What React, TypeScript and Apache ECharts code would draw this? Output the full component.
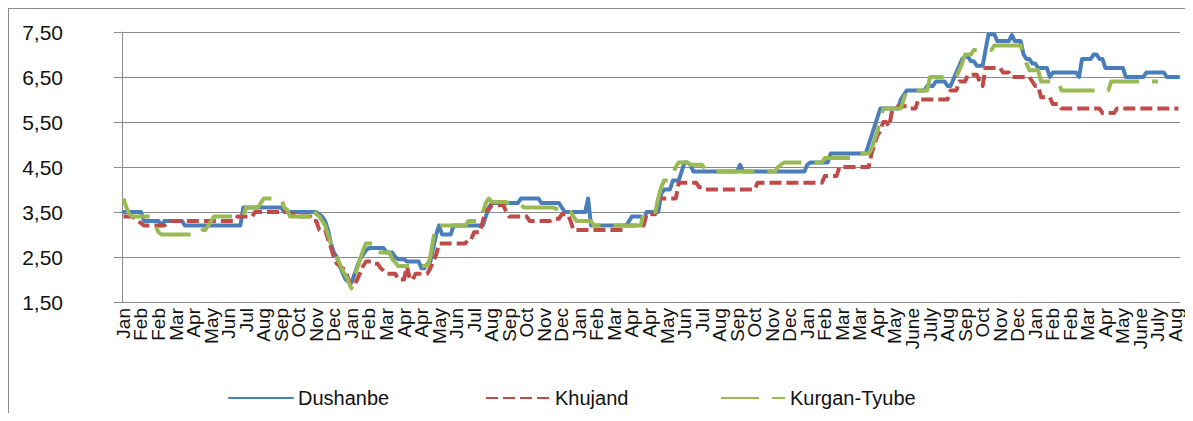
import { useEffect, useRef } from "react";
import * as echarts from "echarts";

// Visible month labels (one every 6th category)
const monthLabels: string[] = [
  "Jan", "Feb", "Feb", "Mar", "Apr", "May", "Jun", "Jul", "Aug", "Sep", "Oct", "Nov", "Dec",
  "Jan", "Feb", "Mar", "Apr", "Apr", "May", "Jun", "Jul", "Aug", "Sep", "Oct", "Nov", "Dec",
  "Jan", "Feb", "Mar", "Apr", "Apr", "May", "Jun", "Jul", "Aug", "Sep", "Oct", "Nov", "Dec",
  "Jan", "Feb", "Mar", "Mar", "Apr", "May", "June", "July", "Aug", "Sep", "Oct", "Nov", "Dec",
  "Jan", "Feb", "Feb", "Mar", "Apr", "May", "June", "July", "Aug",
];
const labelEvery = 6;

const yTickValues = [1.5, 2.5, 3.5, 4.5, 5.5, 6.5, 7.5];

// Series values as runs: [value, number of consecutive observations]
const dushanbeRuns: [number, number][] = [
  [3.5, 7], [3.3, 6], [3.2, 1], [3.3, 7], [3.2, 20], [3.6, 14], [3.5, 12],
  [3.45, 1], [3.4, 1], [3.3, 1], [3.1, 1], [2.8, 1], [2.6, 1], [2.5, 1], [2.3, 1], [2.15, 1],
  [2.0, 1], [1.95, 1], [1.93, 1], [2.1, 1], [2.3, 1], [2.45, 1], [2.55, 1], [2.65, 1],
  [2.7, 6], [2.6, 3], [2.5, 1], [2.45, 3], [2.4, 5], [2.25, 2], [2.35, 1],
  [2.4, 1], [2.7, 1], [3.0, 1], [3.2, 1], [3.0, 4], [3.2, 11], [3.4, 1], [3.6, 1],
  [3.7, 10], [3.8, 7], [3.7, 7], [3.6, 1], [3.5, 8], [3.8, 1], [3.2, 13], [3.3, 1],
  [3.4, 4], [3.3, 1], [3.5, 5], [3.9, 1], [4.0, 3], [4.2, 3], [4.4, 1], [4.6, 2],
  [4.55, 1], [4.4, 16], [4.55, 1], [4.4, 22], [4.55, 1], [4.6, 7], [4.8, 13],
  [5.0, 1], [5.2, 1], [5.4, 1], [5.6, 1], [5.8, 7], [6.0, 1], [6.1, 1], [6.2, 7],
  [6.3, 3], [6.4, 4], [6.3, 2], [6.45, 1], [6.6, 1], [6.75, 1], [6.9, 1], [6.95, 2],
  [6.85, 2], [6.75, 3], [7.1, 1], [7.45, 3], [7.3, 5], [7.43, 1], [7.3, 3], [7.0, 1],
  [6.9, 2], [6.8, 2], [6.7, 4], [6.5, 1], [6.6, 9], [6.5, 1], [6.9, 4], [7.0, 2],
  [6.9, 2], [6.7, 7], [6.5, 7], [6.6, 7], [6.5, 5],
];

const khujandRuns: [number, number][] = [
  [3.4, 4], [3.35, 1], [3.3, 1], [3.25, 1], [3.2, 8], [3.25, 1], [3.3, 23], [3.4, 6],
  [3.5, 12], [3.45, 3], [3.4, 5], [3.3, 2], [3.1, 3],
  [2.9, 1], [2.7, 1], [2.5, 1], [2.35, 1], [2.3, 1], [2.25, 1], [2.2, 1], [2.0, 1],
  [1.88, 2], [2.0, 1], [2.15, 1], [2.3, 1], [2.4, 3], [2.35, 2], [2.25, 1], [2.2, 1],
  [2.13, 4], [2.0, 3], [2.3, 1], [2.0, 2], [2.13, 5], [2.25, 1], [2.4, 1], [2.55, 1],
  [2.8, 10], [2.9, 2], [3.05, 3], [3.3, 1], [3.55, 2], [3.65, 5], [3.5, 1], [3.4, 7],
  [3.3, 8], [3.35, 3], [3.45, 3], [3.3, 1], [3.1, 18], [3.2, 7], [3.45, 4], [3.8, 7],
  [4.15, 7], [4.05, 2], [4.0, 18], [4.15, 23], [4.3, 5], [4.5, 11],
  [4.8, 1], [5.0, 1], [5.2, 1], [5.3, 1], [5.5, 2], [5.4, 1], [5.75, 2], [5.85, 4],
  [5.8, 3], [6.0, 11], [6.2, 3], [6.4, 3], [6.55, 4], [6.4, 1], [6.3, 1], [6.7, 6],
  [6.6, 3], [6.5, 7], [6.4, 1], [6.3, 2], [6.05, 4], [5.9, 3], [5.8, 14], [5.7, 5],
  [5.8, 22],
];

const kurganTyubeRuns: [number | null, number][] = [
  [3.8, 1], [3.6, 1], [3.45, 1], [3.4, 7], [3.3, 1], [3.2, 1], [3.05, 1], [3.0, 14],
  [3.1, 2], [3.2, 1], [3.3, 1], [3.4, 11], [3.6, 5], [3.7, 1], [3.8, 7], [3.6, 1],
  [3.55, 1], [3.4, 8], [3.6, 1], [3.45, 1],
  [3.4, 1], [3.3, 1], [3.2, 1], [3.0, 1], [2.8, 1], [2.65, 1], [2.5, 1], [2.35, 1],
  [2.2, 1], [2.1, 1], [1.95, 1], [1.8, 1], [2.05, 1], [2.25, 1], [2.45, 1], [2.65, 1],
  [2.8, 4], [2.6, 5], [2.45, 1], [2.38, 1], [2.3, 11], [2.5, 1], [2.9, 1], [3.2, 11],
  [3.3, 5], [3.5, 1], [3.7, 1], [3.8, 1], [3.72, 6], [3.67, 5], [3.6, 11], [3.57, 3],
  [3.5, 3], [3.4, 1], [3.3, 6], [3.2, 17], [3.5, 5], [3.8, 1], [4.05, 1], [4.2, 3],
  [4.35, 1], [4.5, 1], [4.6, 4], [4.55, 5], [4.45, 2], [4.4, 23], [4.5, 1], [4.55, 1],
  [4.6, 14], [4.7, 10], [4.8, 6], [4.9, 1], [5.1, 1], [5.3, 1], [5.55, 1], [5.8, 7],
  [6.0, 1], [6.2, 8], [6.5, 10], [6.65, 1], [6.8, 1], [7.0, 3], [7.1, 7], [7.2, 10],
  [7.0, 1], [6.8, 1], [6.65, 4], [6.4, 7], [6.2, 17], [6.4, 17], [null, 7],
];

function expandRuns(runs: [number | null, number][]): (number | null)[] {
  const out: (number | null)[] = [];
  for (const [v, n] of runs) for (let i = 0; i < n; i++) out.push(v);
  return out;
}

const FONT = "Liberation Sans";
const GRAY = "#898989";

export default function App() {
  const ref = useRef<HTMLDivElement>(null);

  useEffect(() => {
    if (!ref.current) return;
    const chart = echarts.init(ref.current, undefined, { renderer: "svg" });

    const dushanbe = expandRuns(dushanbeRuns);
    const khujand = expandRuns(khujandRuns);
    const kurgan = expandRuns(kurganTyubeRuns);
    const n = Math.max(dushanbe.length, khujand.length, kurgan.length);
    const categories = Array.from({ length: n }, (_, i) =>
      i % labelEvery === 0 && monthLabels[i / labelEvery] !== undefined ? monthLabels[i / labelEvery] : ""
    );

    const legendCommon = {
      top: 379,
      padding: 0,
      itemWidth: 64,
      itemHeight: 14,
      itemStyle: { opacity: 0 },
      textStyle: { fontFamily: FONT, fontSize: 20, color: "#111" },
      selectedMode: false as const,
    };

    chart.setOption({
      animation: false,
      textStyle: { fontFamily: FONT },
      grid: { left: 113, right: 0, top: 23, bottom: 111, containLabel: false },
      xAxis: {
        type: "category",
        data: categories,
        boundaryGap: true,
        axisLine: { lineStyle: { color: GRAY, width: 1 } },
        axisTick: { interval: 0, length: 7, lineStyle: { color: GRAY } },
        axisLabel: {
          interval: 0,
          rotate: 90,
          fontFamily: FONT,
          fontSize: 19,
          color: "#111",
          margin: 6,
        },
        splitLine: { show: false },
      },
      yAxis: {
        type: "value",
        min: yTickValues[0],
        max: yTickValues[yTickValues.length - 1],
        interval: 1,
        axisLine: { show: true, lineStyle: { color: GRAY, width: 1 } },
        axisTick: { show: true, length: 8, lineStyle: { color: GRAY } },
        splitLine: { show: true, lineStyle: { color: GRAY, width: 1 } },
        axisLabel: {
          formatter: (v: number) => v.toFixed(2).replace(".", ","),
          fontFamily: FONT,
          fontSize: 21,
          color: "#111",
          margin: 59,
        },
      },
      legend: [
        { ...legendCommon, left: 219, data: ["Dushanbe"] },
        { ...legendCommon, left: 476, data: ["Khujand"] },
        { ...legendCommon, left: 711, data: ["Kurgan-Tyube"] },
      ],
      series: [
        {
          name: "Dushanbe",
          type: "line",
          data: dushanbe,
          showSymbol: false,
          symbol: "none",
          lineStyle: { color: "#4A7EBB", width: 4, join: "round", cap: "round" },
          itemStyle: { color: "#4A7EBB" },
        },
        {
          name: "Khujand",
          type: "line",
          data: khujand,
          showSymbol: false,
          symbol: "none",
          lineStyle: { color: "#BE4B48", width: 4, type: [12, 5], join: "round", cap: "butt" },
          itemStyle: { color: "#BE4B48" },
        },
        {
          name: "Kurgan-Tyube",
          type: "line",
          data: kurgan,
          showSymbol: false,
          symbol: "none",
          connectNulls: false,
          lineStyle: { color: "#98B954", width: 4, type: [38, 13], join: "round", cap: "butt" },
          itemStyle: { color: "#98B954" },
        },
      ],
    });

    return () => chart.dispose();
  }, []);

  return (
    <div
      style={{
        width: 1177,
        height: 405,
        boxSizing: "border-box",
        borderTop: `1px solid ${GRAY}`,
        borderLeft: `1px solid ${GRAY}`,
      }}
    >
      <div ref={ref} style={{ width: 1176, height: 404 }} />
    </div>
  );
}
